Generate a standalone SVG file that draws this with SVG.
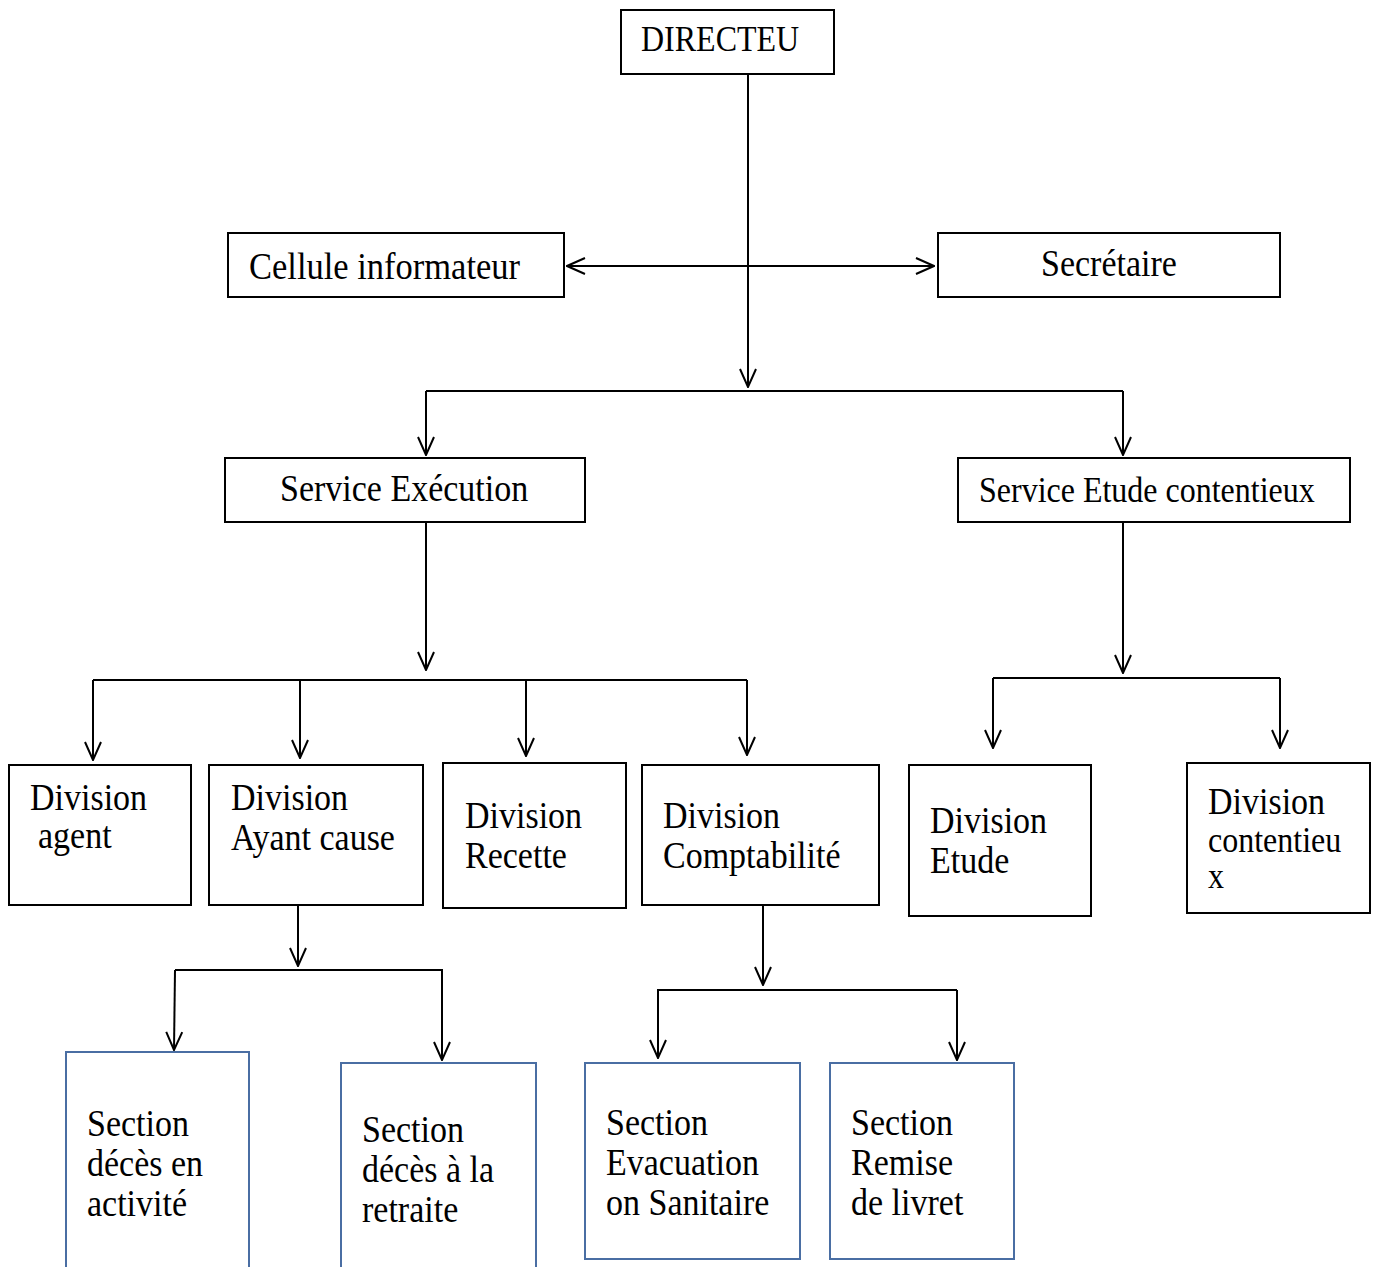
<svg xmlns="http://www.w3.org/2000/svg" width="1373" height="1267" viewBox="0 0 1373 1267">
<style>
.box{fill:#fff;stroke:#000;stroke-width:2}
.sec{fill:#fff;stroke:#4a6ea3;stroke-width:2}
.t{font-family:"Liberation Serif","Times New Roman",serif;font-size:34px;fill:#000}
.c{fill:none;stroke:#000;stroke-width:2}
.a{marker-end:url(#arr)}
</style>
<defs>
<marker id="arr" viewBox="0 0 20 20" refX="19" refY="10" markerWidth="20" markerHeight="20" markerUnits="userSpaceOnUse" orient="auto-start-reverse">
<path d="M1,2 L19,10 L1,18" fill="none" stroke="#000" stroke-width="2"/>
</marker>
</defs>
<rect width="1373" height="1267" fill="#fff"/>
<g id="connectors">
<line class="c a" x1="748" y1="74" x2="748" y2="387"/>
<line class="c a" x1="748" y1="266" x2="567" y2="266"/>
<line class="c a" x1="748" y1="266" x2="934" y2="266"/>
<polyline class="c" points="426,391 1123,391"/>
<line class="c a" x1="426" y1="391" x2="426" y2="455"/>
<line class="c a" x1="1123" y1="391" x2="1123" y2="455"/>
<line class="c a" x1="426" y1="522" x2="426" y2="670"/>
<polyline class="c" points="93,680 747,680"/>
<line class="c a" x1="93" y1="680" x2="93" y2="760"/>
<line class="c a" x1="300" y1="680" x2="300" y2="758"/>
<line class="c a" x1="526" y1="680" x2="526" y2="756"/>
<line class="c a" x1="747" y1="680" x2="747" y2="755"/>
<line class="c a" x1="1123" y1="522" x2="1123" y2="673"/>
<polyline class="c" points="993,678 1280,678"/>
<line class="c a" x1="993" y1="678" x2="993" y2="748"/>
<line class="c a" x1="1280" y1="678" x2="1280" y2="748"/>
<line class="c a" x1="298" y1="905" x2="298" y2="966"/>
<polyline class="c" points="175,970 443,970"/>
<line class="c a" x1="175" y1="970" x2="174" y2="1050"/>
<line class="c a" x1="442" y1="970" x2="442" y2="1060"/>
<line class="c a" x1="763" y1="905" x2="763" y2="985"/>
<polyline class="c" points="657,990 957,990"/>
<line class="c a" x1="658" y1="990" x2="658" y2="1058"/>
<line class="c a" x1="957" y1="990" x2="957" y2="1060"/>
</g>
<g id="directeur">
<rect class="box" x="621" y="10" width="213" height="64"/>
<text class="t" style="font-size:32px" transform="translate(641,51) scale(1,1.1)">DIRECTEU</text>
</g>
<g id="cellule">
<rect class="box" x="228" y="233" width="336" height="64"/>
<text class="t" style="font-size:34.5px" transform="translate(249,279) scale(1,1.1)">Cellule informateur</text>
</g>
<g id="secretaire">
<rect class="box" x="938" y="233" width="342" height="64"/>
<text class="t" transform="translate(1041,276) scale(1,1.1)">Secrétaire</text>
</g>
<g id="service-execution">
<rect class="box" x="225" y="458" width="360" height="64"/>
<text class="t" transform="translate(280,501) scale(1,1.1)">Service Exécution</text>
</g>
<g id="service-etude">
<rect class="box" x="958" y="458" width="392" height="64"/>
<text class="t" style="font-size:32px" transform="translate(979,502) scale(1,1.1)">Service Etude contentieux</text>
</g>
<g id="div-agent">
<rect class="box" x="9" y="765" width="182" height="140"/>
<text class="t" transform="translate(30,810) scale(1,1.1)"><tspan x="0">Division</tspan><tspan x="8" dy="34.5">agent</tspan></text>
</g>
<g id="div-ayant">
<rect class="box" x="209" y="765" width="214" height="140"/>
<text class="t" transform="translate(231,810) scale(1,1.1)"><tspan x="0">Division</tspan><tspan x="0" dy="36">Ayant cause</tspan></text>
</g>
<g id="div-recette">
<rect class="box" x="443" y="763" width="183" height="145"/>
<text class="t" transform="translate(465,828) scale(1,1.1)"><tspan x="0">Division</tspan><tspan x="0" dy="36.4">Recette</tspan></text>
</g>
<g id="div-compta">
<rect class="box" x="642" y="765" width="237" height="140"/>
<text class="t" transform="translate(663,828) scale(1,1.1)"><tspan x="0">Division</tspan><tspan x="0" dy="36.4">Comptabilité</tspan></text>
</g>
<g id="div-etude">
<rect class="box" x="909" y="765" width="182" height="151"/>
<text class="t" transform="translate(930,833) scale(1,1.1)"><tspan x="0">Division</tspan><tspan x="0" dy="36.4">Etude</tspan></text>
</g>
<g id="div-contentieux">
<rect class="box" x="1187" y="763" width="183" height="150"/>
<text class="t" transform="translate(1208,814) scale(1,1.1)"><tspan x="0">Division</tspan><tspan x="0" dy="34.5" style="font-size:32px">contentieu</tspan><tspan x="0" dy="33" style="font-size:32px">x</tspan></text>
</g>
<g id="sec-activite">
<rect class="sec" x="66" y="1052" width="183" height="240"/>
<text class="t" transform="translate(87,1136) scale(1,1.1)"><tspan x="0">Section</tspan><tspan x="0" dy="36.4">décès en</tspan><tspan x="0" dy="36.4">activité</tspan></text>
</g>
<g id="sec-retraite">
<rect class="sec" x="341" y="1063" width="195" height="230"/>
<text class="t" transform="translate(362,1142) scale(1,1.1)"><tspan x="0">Section</tspan><tspan x="0" dy="36.4">décès à la</tspan><tspan x="0" dy="36.4">retraite</tspan></text>
</g>
<g id="sec-evacuation">
<rect class="sec" x="585" y="1063" width="215" height="196"/>
<text class="t" transform="translate(606,1135) scale(1,1.1)"><tspan x="0">Section</tspan><tspan x="0" dy="36.4">Evacuation</tspan><tspan x="0" dy="36.4">on Sanitaire</tspan></text>
</g>
<g id="sec-remise">
<rect class="sec" x="830" y="1063" width="184" height="196"/>
<text class="t" transform="translate(851,1135) scale(1,1.1)"><tspan x="0">Section</tspan><tspan x="0" dy="36.4">Remise</tspan><tspan x="0" dy="36.4">de livret</tspan></text>
</g>
</svg>
